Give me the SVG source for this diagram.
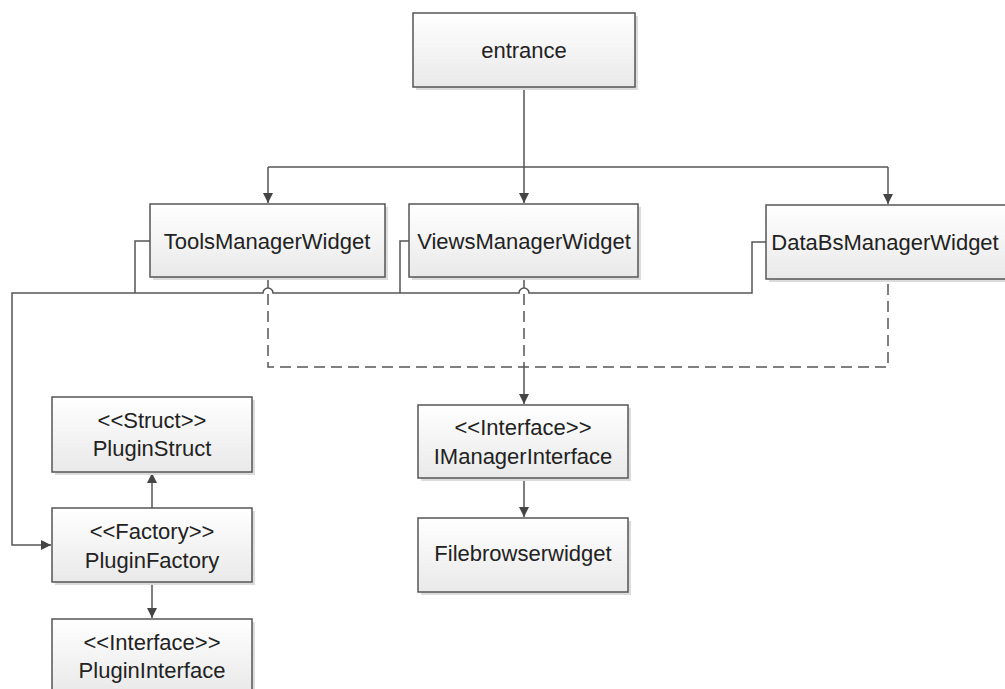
<svg xmlns="http://www.w3.org/2000/svg" width="1005" height="689" viewBox="0 0 1005 689">
<defs>
<linearGradient id="g" x1="0" y1="0" x2="0" y2="1">
<stop offset="0" stop-color="#ffffff"/>
<stop offset="1" stop-color="#e9e9e9"/>
</linearGradient>
<marker id="ah" viewBox="0 0 10 10" refX="10" refY="5" markerWidth="10" markerHeight="10" markerUnits="userSpaceOnUse" orient="auto">
<path d="M0,0 L10,5 L0,10 z" fill="#444"/>
</marker>
</defs>
<style>
.box{fill:url(#g);stroke:#555;stroke-width:1.5}
.sh{fill:#dcdcdc}
.t{font-family:"Liberation Sans",Arial,sans-serif;font-size:22px;fill:#222;text-anchor:middle}
.c{fill:none;stroke:#555;stroke-width:1.5}
.d{fill:none;stroke:#555;stroke-width:1.5;stroke-dasharray:11 6}
</style>
<rect width="1005" height="689" fill="#fff"/>
<g id="connectors">
<path class="c" d="M524,87 V162" />
<path class="c" d="M268,167 H888" />
<path class="c" d="M268,167 V203" marker-end="url(#ah)"/>
<path class="c" d="M524,162 V203" marker-end="url(#ah)"/>
<path class="c" d="M888,167 V204" marker-end="url(#ah)"/>
<path class="c" d="M150,241 H135 V293"/>
<path class="c" d="M409,241 H400 V293"/>
<path class="c" d="M766,242 H752 V293 H529 A5,5 0 0 0 519,293 H273 A5,5 0 0 0 263,293 H12 V545 H51" marker-end="url(#ah)"/>
<path class="d" d="M268,277 V367 H888 V279"/>
<path class="d" d="M524,277 V367"/>
<path class="c" d="M524,367 V404" marker-end="url(#ah)"/>
<path class="c" d="M152,508 V473" marker-end="url(#ah)"/>
<path class="c" d="M152,582 V618" marker-end="url(#ah)"/>
<path class="c" d="M524,478 V517" marker-end="url(#ah)"/>
</g>
<g id="entrance">
<rect class="sh" x="416" y="16" width="222" height="74"/>
<rect class="box" x="413" y="13" width="222" height="74"/>
<text class="t" x="524" y="58">entrance</text>
</g>
<g id="tools">
<rect class="sh" x="153" y="207" width="235" height="73"/>
<rect class="box" x="150" y="204" width="235" height="73"/>
<text class="t" x="267" y="249">ToolsManagerWidget</text>
</g>
<g id="views">
<rect class="sh" x="412" y="207" width="229" height="73"/>
<rect class="box" x="409" y="204" width="229" height="73"/>
<text class="t" x="524" y="249">ViewsManagerWidget</text>
</g>
<g id="databs">
<rect class="sh" x="769" y="208" width="240" height="74"/>
<rect class="box" x="766" y="205" width="240" height="74"/>
<text class="t" x="885" y="250">DataBsManagerWidget</text>
</g>
<g id="pluginstruct">
<rect class="sh" x="55" y="400" width="200" height="75"/>
<rect class="box" x="52" y="397" width="200" height="75"/>
<text class="t" x="152" y="428">&lt;&lt;Struct&gt;&gt;</text>
<text class="t" x="152" y="456">PluginStruct</text>
</g>
<g id="pluginfactory">
<rect class="sh" x="55" y="511" width="200" height="74"/>
<rect class="box" x="52" y="508" width="200" height="74"/>
<text class="t" x="152" y="539">&lt;&lt;Factory&gt;&gt;</text>
<text class="t" x="152" y="568">PluginFactory</text>
</g>
<g id="plugininterface">
<rect class="sh" x="55" y="622" width="200" height="74"/>
<rect class="box" x="52" y="619" width="200" height="74"/>
<text class="t" x="152" y="650">&lt;&lt;Interface&gt;&gt;</text>
<text class="t" x="152" y="678">PluginInterface</text>
</g>
<g id="imanager">
<rect class="sh" x="421" y="408" width="210" height="73"/>
<rect class="box" x="418" y="405" width="210" height="73"/>
<text class="t" x="523" y="435">&lt;&lt;Interface&gt;&gt;</text>
<text class="t" x="523" y="464">IManagerInterface</text>
</g>
<g id="filebrowser">
<rect class="sh" x="421" y="521" width="210" height="74"/>
<rect class="box" x="418" y="518" width="210" height="74"/>
<text class="t" x="523" y="561">Filebrowserwidget</text>
</g>
</svg>
